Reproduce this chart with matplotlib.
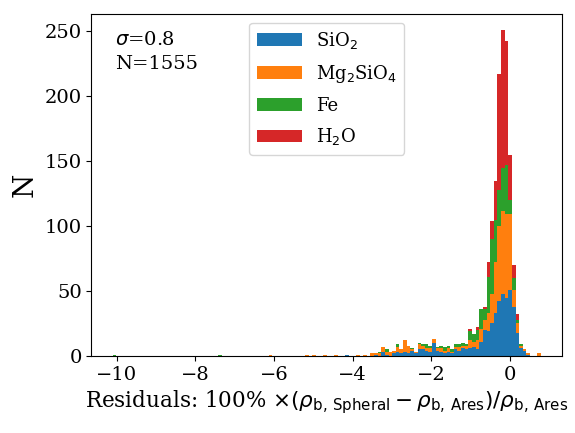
import numpy as np
import matplotlib
matplotlib.use("Agg")
import matplotlib.pyplot as plt

plt.rcParams["font.family"] = "DejaVu Serif"

# histogram binning (118 bins over the data range)
X_MIN = -10.10
X_MAX = 0.79
N_BINS = 118

# counts per bin, bins 69..117 (main body of the distribution)
K0 = 69
SIO2 = [0, 0, 0, 1, 0, 3, 1, 0, 2, 3, 2, 3, 2, 4, 2, 5, 5, 4, 3, 10,
        4, 3, 2, 3, 2, 5, 4, 6, 5, 6, 7, 5, 11, 20, 19, 25, 33, 42, 48, 45,
        51, 38, 18, 6, 4, 1, 0, 0, 0]
MG2SIO4 = [1, 0, 2, 1, 2, 4, 2, 3, 2, 4, 3, 9, 6, 1, 1, 4, 3, 2, 3, 3,
           2, 3, 2, 3, 1, 2, 3, 2, 3, 6, 4, 7, 10, 8, 14, 23, 39, 58, 64, 64,
           58, 13, 7, 2, 1, 1, 0, 0, 2]
FE = [0, 0, 0, 0, 1, 0, 2, 0, 0, 2, 0, 0, 0, 1, 0, 1, 1, 3, 2, 0,
      1, 2, 3, 2, 2, 2, 2, 2, 1, 7, 6, 8, 15, 8, 28, 42, 33, 28, 33, 38,
      11, 9, 3, 1, 0, 0, 0, 0, 0]
H2O = [0, 0, 0, 0, 0, 0, 0, 0, 0, 0, 0, 0, 0, 0, 0, 0, 0, 0, 0, 0,
       0, 0, 0, 0, 0, 0, 0, 0, 0, 2, 0, 2, 0, 2, 11, 14, 30, 89, 106, 96,
       35, 10, 4, 0, 0, 0, 0, 0, 0]

# isolated outliers far in the left tail
TAIL_BINS = [0, 29, 43, 53, 55, 58, 61, 64, 67]
TAIL_SIO2 = [0, 0, 0, 0, 0, 0, 0, 1, 0]
TAIL_MG2SIO4 = [0, 0, 1, 1, 1, 1, 1, 0, 1]
TAIL_FE = [1, 1, 0, 0, 0, 0, 0, 0, 0]
TAIL_H2O = [0, 0, 0, 0, 0, 0, 0, 0, 0]

LABELS = ["SiO$_2$", "Mg$_2$SiO$_4$", "Fe", "H$_2$O"]
COLORS = ["#1f77b4", "#ff7f0e", "#2ca02c", "#d62728"]

edges = np.linspace(X_MIN, X_MAX, N_BINS + 1)
centers = 0.5 * (edges[:-1] + edges[1:])


def full_counts(main, tail):
    c = np.zeros(N_BINS)
    c[K0:K0 + len(main)] = main
    c[TAIL_BINS] += tail
    return c


weights = [full_counts(SIO2, TAIL_SIO2), full_counts(MG2SIO4, TAIL_MG2SIO4),
           full_counts(FE, TAIL_FE), full_counts(H2O, TAIL_H2O)]

fig = plt.figure(figsize=(5.75, 4.33), dpi=100)
ax = fig.add_axes([0.159, 0.178, 0.819, 0.79])

ax.hist([centers] * 4, bins=edges, weights=weights, stacked=True,
        color=COLORS, label=LABELS)

ax.set_xticks([-10, -8, -6, -4, -2, 0])
ax.set_yticks([0, 50, 100, 150, 200, 250])
ax.tick_params(labelsize=14)
ax.set_ylabel("N", fontsize=20)
ax.set_xlabel(r"Residuals: 100% $\times(\rho_{\rm b,\,Spheral}-\rho_{\rm b,\,Ares})/\rho_{\rm b,\,Ares}$",
              fontsize=15.5, labelpad=3)

ax.text(0.05, 0.95, "$\\sigma$=0.8\nN=1555", transform=ax.transAxes,
        ha="left", va="top", fontsize=14, linespacing=1.4)

ax.legend(loc="upper center", fontsize=13, handlelength=2.5,
          labelspacing=0.65)

fig.savefig("out.png", dpi=100)
